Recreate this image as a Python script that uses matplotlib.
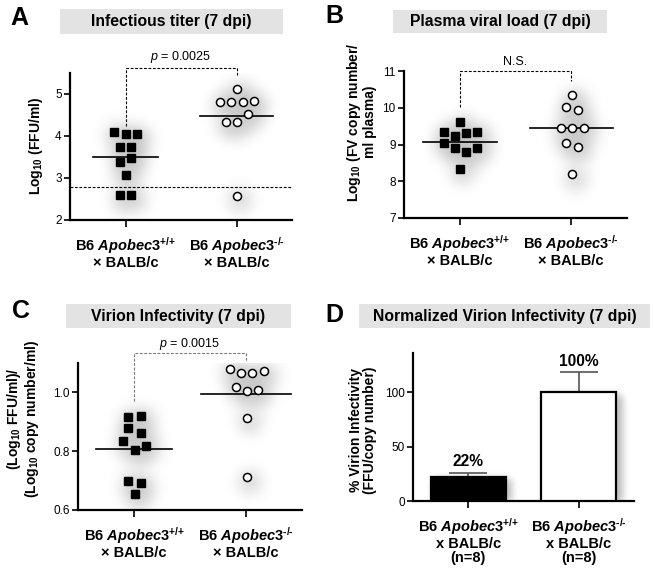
import numpy as np
import matplotlib
matplotlib.use("Agg")
import matplotlib.pyplot as plt
from matplotlib.patches import Rectangle

plt.rcParams['font.family'] = ['Liberation Sans', 'DejaVu Sans']
plt.rcParams['mathtext.fontset'] = 'custom'
plt.rcParams['mathtext.rm'] = 'Liberation Sans:bold'
plt.rcParams['mathtext.bf'] = 'Liberation Sans:bold'
plt.rcParams['mathtext.it'] = 'Liberation Sans:italic:bold'
plt.rcParams['mathtext.sf'] = 'Liberation Sans:italic'

# ---------------- data ----------------
groups = ["B6 $\\mathit{Apobec3}^{\\text{+/+}}$\n\u00d7 BALB/c", "B6 $\\mathit{Apobec3}^{\\text{-/-}}$\n\u00d7 BALB/c"]
groups_d = ["B6 $\\mathit{Apobec3}^{\\text{+/+}}$\nx BALB/c\n(n=8)", "B6 $\\mathit{Apobec3}^{\\text{-/-}}$\nx BALB/c\n(n=8)"]

# Panel A: infectious titer (log10 FFU/ml)
A_wt = [4.10, 4.04, 4.04, 3.73, 3.73, 3.47, 3.375, 3.08, 2.595, 2.595]
A_wt_jit = [-0.106, 0.0, 0.10, -0.052, 0.051, 0.051, -0.052, 0.0, -0.052, 0.051]
A_ko = [5.12, 4.81, 4.81, 4.81, 4.84, 4.52, 4.33, 4.33, 2.58]
A_ko_jit = [0.0, -0.149, -0.049, 0.055, 0.155, 0.105, -0.097, 0.0, 0.0]
A_mean = [3.51, 4.48]
A_detect = 2.78
A_p = "$\\mathsf{p}$ = 0.0025"

# Panel B: plasma viral load (log10 copies/ml)
B_wt = [9.61, 9.35, 9.35, 9.23, 9.30, 9.05, 8.90, 8.91, 8.80, 8.34]
B_wt_jit = [0.0, -0.145, 0.155, -0.045, 0.055, -0.145, -0.045, 0.155, 0.055, 0.0]
B_ko = [10.34, 10.02, 9.93, 9.46, 9.46, 9.46, 9.05, 8.94, 8.19]
B_ko_jit = [0.01, -0.045, 0.06, -0.09, 0.01, 0.11, -0.045, 0.06, 0.01]
B_mean = [9.08, 9.44]
B_p = "N.S."

# Panel C: virion infectivity
C_wt = [0.917, 0.920, 0.880, 0.863, 0.836, 0.819, 0.804, 0.699, 0.693, 0.654]
C_wt_jit = [-0.05, 0.06, -0.05, 0.06, -0.095, 0.105, 0.005, -0.05, 0.06, 0.005]
C_ko = [1.080, 1.067, 1.065, 1.074, 1.019, 1.006, 1.008, 0.914, 0.711]
C_ko_jit = [-0.145, -0.045, 0.055, 0.157, -0.09, 0.006, 0.106, 0.006, 0.006]
C_mean = [0.807, 0.993]
C_p = "$\\mathsf{p}$ = 0.0015"

# Panel D: normalized virion infectivity (%)
D_vals = [22.5, 100.0]
D_err = [3.5, 18.4]
D_labels = ["22%", "100%"]

W_FIG, H_FIG = 653, 571
fig = plt.figure(figsize=(W_FIG / 100, H_FIG / 100), dpi=100)


def ax_px(l, r, t, b):
    return fig.add_axes([l / W_FIG, 1 - b / H_FIG, (r - l) / W_FIG, (b - t) / H_FIG])


def fx(px):
    return px / W_FIG


def fy(py):
    return 1 - py / H_FIG


def blur(img, sigma):
    r = int(3 * sigma)
    k = np.exp(-np.arange(-r, r + 1) ** 2 / (2 * sigma ** 2))
    k /= k.sum()
    img = np.apply_along_axis(lambda m: np.convolve(m, k, mode='same'), 0, img)
    img = np.apply_along_axis(lambda m: np.convolve(m, k, mode='same'), 1, img)
    return img


def add_shadow(ax, boxes, sigma, dx, dy, amax, gain):
    pos = ax.get_position()
    W = int(round(pos.width * W_FIG)); H = int(round(pos.height * H_FIG))
    x0, x1 = ax.get_xlim(); y0, y1 = ax.get_ylim()
    mask = np.zeros((H, W))
    for (bx0, by0, bx1, by1) in boxes:  # pixel boxes
        c0 = int(max(0, bx0 + dx)); c1 = int(min(W, bx1 + dx))
        r0 = int(max(0, by0 + dy)); r1 = int(min(H, by1 + dy))
        if c1 > c0 and r1 > r0:
            mask[r0:r1, c0:c1] = 1.0
    b = blur(mask, sigma)
    alpha = amax * (1 - np.exp(-gain * b))
    rgba = np.zeros((H, W, 4))
    rgba[..., 3] = alpha
    ax.imshow(rgba, extent=(x0, x1, y0, y1), aspect='auto', origin='upper',
              interpolation='bilinear', zorder=0.5)
    ax.set_xlim(x0, x1); ax.set_ylim(y0, y1)


def to_px(ax, x, y):
    pos = ax.get_position()
    W = pos.width * W_FIG; H = pos.height * H_FIG
    x0, x1 = ax.get_xlim(); y0, y1 = ax.get_ylim()
    return (x - x0) / (x1 - x0) * W, (y1 - y) / (y1 - y0) * H


def style_axes(ax, ylim, yticks, ytl, xtl, pad=6):
    ax.set_xlim(0.5, 2.5)
    ax.set_ylim(*ylim)
    for s in ['top', 'right']:
        ax.spines[s].set_visible(False)
    for s in ['left', 'bottom']:
        ax.spines[s].set_linewidth(1.6)
    ax.set_yticks(yticks)
    ax.set_yticklabels(ytl, fontsize=8.5)
    ax.set_xticks([1, 2])
    ax.set_xticklabels(xtl, fontsize=10.5, fontweight='bold', linespacing=1.0)
    ax.tick_params(axis='y', direction='out', length=4, width=1.2, pad=2)
    ax.tick_params(axis='x', direction='out', length=5, width=1.2, pad=pad)


def scatter_panel(ax, wt, wtj, ko, koj, means, halfw):
    xs1 = [1 + j for j in wtj]
    xs2 = [2 + j for j in koj]
    boxes = []
    for xx, yy in zip(xs1 + xs2, wt + ko):
        px, py = to_px(ax, xx, yy)
        boxes.append((px - 4, py - 4, px + 4, py + 4))
    add_shadow(ax, boxes, sigma=9, dx=4, dy=5, amax=0.30, gain=4.0)
    ax.plot(xs1, wt, ls='none', marker='s', ms=5.2, mfc='black', mec='black', zorder=3, clip_on=False)
    ax.plot(xs2, ko, ls='none', marker='o', ms=5.8, mfc='white', mec='black', mew=1.1, zorder=3, clip_on=False)
    for i, (m, hw) in enumerate(zip(means, halfw)):
        ax.plot([i + 1 - hw, i + 1 + hw], [m, m], color='black', lw=1.2, zorder=2)


def bracket(ax, yl, top, yr, txt, ty, color='black'):
    ax.plot([1, 1, 2, 2], [yl, top, top, yr], color=color, lw=0.8, ls=(0, (2.5, 1.5)),
            clip_on=False, zorder=2)
    ax.text(1.5, ty, txt, ha='center', va='center', fontsize=9, color='black', clip_on=False)


def title_box(l, r, t, b, txt):
    fig.add_artist(Rectangle((fx(l), fy(b)), fx(r) - fx(l), fy(t) - fy(b), transform=fig.transFigure,
                             facecolor='#e3e3e3', edgecolor='none', zorder=0))
    fig.text(fx((l + r) / 2), fy((t + b) / 2), txt, ha='center', va='center',
             fontsize=11.3, fontweight='bold')


# ---------------- Panel A ----------------
axA = ax_px(70, 292, 73, 220)
style_axes(axA, (2, 5.5), [2, 3, 4, 5], ['2', '3', '4', '5'], groups)
scatter_panel(axA, A_wt, A_wt_jit, A_ko, A_ko_jit, A_mean, [0.29, 0.33])
axA.axhline(A_detect, color='black', lw=0.8, ls=(0, (2.5, 1.5)), zorder=2)
bracket(axA, 4.24, 5.63, 5.45, A_p, 5.87)

# ---------------- Panel B ----------------
axB = ax_px(404, 627, 71, 218)
style_axes(axB, (7, 11), [7, 8, 9, 10, 11], ['7', '8', '9', '10', '11'], groups)
scatter_panel(axB, B_wt, B_wt_jit, B_ko, B_ko_jit, B_mean, [0.33, 0.37])
bracket(axB, 10.02, 11.0, 10.74, B_p, 11.24)

# ---------------- Panel C ----------------
axC = ax_px(78, 302, 363, 510)
style_axes(axC, (0.6, 1.1), [0.6, 0.8, 1.0], ['0.6', '0.8', '1.0'], groups)
scatter_panel(axC, C_wt, C_wt_jit, C_ko, C_ko_jit, C_mean, [0.34, 0.40])
bracket(axC, 0.97, 1.133, 1.11, C_p, 1.163, color='#777777')

# ---------------- Panel D ----------------
axD = ax_px(413, 634, 353, 501)
style_axes(axD, (0, 136), [0, 50, 100], ['0', '50', '100'], groups_d, pad=6)
bw = 0.68
boxes = []
for i, v in enumerate(D_vals):
    px0, py1 = to_px(axD, i + 1 - bw / 2, v)
    px1, py0 = to_px(axD, i + 1 + bw / 2, 0)
    boxes.append((px0, py1, px1, py0))
add_shadow(axD, boxes, sigma=4, dx=5, dy=4, amax=0.35, gain=1.5)
axD.bar([1, 2], D_vals, width=bw, color=['black', 'white'], edgecolor='black', linewidth=1.6, zorder=3)
axD.errorbar([1, 2], D_vals, yerr=[[0, 0], D_err], fmt='none', ecolor='#555555', elinewidth=1.2,
             capsize=13.5, capthick=1.2, zorder=2)
for i, (v, e, lab) in enumerate(zip(D_vals, D_err, D_labels)):
    axD.text(i + 1, v + e + 10, lab, ha='center', va='center', fontsize=11.2, fontweight='bold')

# ---------------- y labels ----------------
fig.text(fx(36), fy(146), "Log$_{10}$ (FFU/ml)", rotation=90, ha='center', va='center',
         fontsize=10, fontweight='bold')
fig.text(fx(361), fy(122), "Log$_{10}$ (FV copy number/\nml plasma)", rotation=90, ha='center',
         va='center', fontsize=10, fontweight='bold', linespacing=1.0)
fig.text(fx(23), fy(419), "(Log$_{10}$ FFU/ml)/\n(Log$_{10}$ copy number/ml)", rotation=90,
         ha='center', va='center', fontsize=10, fontweight='bold', linespacing=1.0)
fig.text(fx(363), fy(430), "% Virion Infectivity\n(FFU/copy number)", rotation=90, ha='center',
         va='center', fontsize=10, fontweight='bold', linespacing=1.0)

# ---------------- titles ----------------
title_box(60, 283, 9, 34, "Infectious titer (7 dpi)")
title_box(393, 607, 10, 33, "Plasma viral load (7 dpi)")
title_box(66, 291, 304, 328, "Virion Infectivity (7 dpi)")
title_box(359, 650, 304, 328, "Normalized Virion Infectivity (7 dpi)")

# ---------------- panel letters ----------------
for L, x, yb in [("A", 10, 25), ("B", 325, 23), ("C", 12, 318), ("D", 325, 322)]:
    fig.text(fx(x), fy(yb), L, ha='left', va='baseline', fontsize=18, fontweight='bold')

fig.savefig("out.png", dpi=100)
